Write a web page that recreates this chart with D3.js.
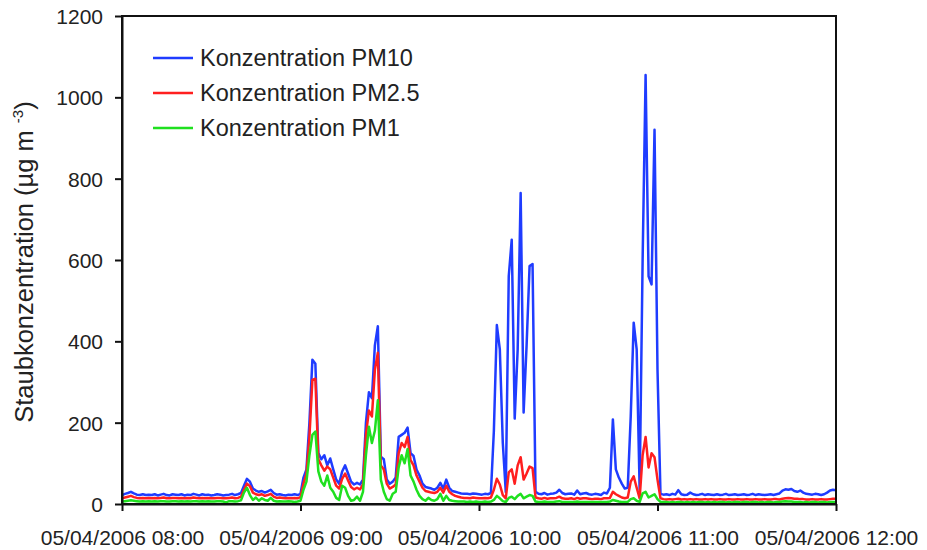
<!DOCTYPE html>
<html lang="de">
<head>
    <meta charset="utf-8">
    <style type="text/css">
        body { margin: 0; background: #fff; }
        svg { font-family: "Liberation Sans", Arial, sans-serif; }
        .line { fill: none; stroke-width: 2.5px; stroke-linejoin: round; }
        .axis path, .axis line { stroke: #111; stroke-width: 2px; }
        .axis text { fill: #222; }
    </style>
</head>
<body>
<svg width="927" height="550"></svg>

<script src="https://d3js.org/d3.v7.min.js" type="text/javascript"></script>

<script type="text/javascript">
    // one reading per minute, 08:00 to 12:00
    var startTime = new Date(2006, 3, 5, 8, 0);

    var pm10 = [
        22, 25, 27, 30, 26, 23, 22, 24, 22, 23,
        22, 24, 21, 23, 25, 22, 21, 24, 23, 22,
        24, 21, 23, 22, 25, 23, 21, 24, 22, 23,
        21, 22, 24, 23, 21, 22, 23, 25, 22, 24,
        27, 45, 62, 55, 38, 33, 30, 32, 28, 31,
        35, 27, 23, 24, 22, 21, 23, 22, 24, 22,
        25, 65, 85, 200, 355, 345, 125, 110, 120, 95,
        112, 85, 60, 50, 80, 95, 75, 55, 48, 52,
        48, 60, 200, 275, 260, 390, 437, 116, 110, 60,
        50, 55, 65, 165, 170, 175, 188, 125, 118, 85,
        70, 50, 42, 40, 38, 35, 40, 52, 38, 60,
        40, 32, 30, 28, 26, 25, 25, 24, 26, 25,
        24, 23, 25, 24, 27, 180, 440, 380, 150, 30,
        560, 650, 210, 380, 765, 225, 390, 585, 590, 30,
        25, 24, 27, 23, 25, 26, 28, 35, 27, 24,
        25, 26, 23, 33, 24, 26, 27, 24, 23, 25,
        24, 22, 28, 26, 40, 208, 85, 65, 50, 38,
        40, 215, 446, 380, 35, 600, 1055, 560, 540, 920,
        330, 25, 23, 24, 22, 25, 23, 34, 24, 22,
        23, 28, 24, 22, 23, 25, 22, 24, 23, 22,
        24, 22, 23, 25, 22, 23, 24, 22, 23, 24,
        22, 23, 25, 22, 24, 23, 22, 23, 24, 22,
        24, 26, 33, 36, 35, 37, 32, 30, 33, 28,
        25, 24, 23, 25, 24, 22, 24, 28, 33, 35,
        34
    ];

    var pm25 = [
        14, 16, 18, 20, 17, 15, 14, 15, 14, 15,
        14, 15, 14, 15, 16, 14, 14, 15, 15, 14,
        15, 14, 15, 14, 16, 15, 14, 15, 14, 15,
        14, 14, 15, 15, 14, 14, 15, 16, 14, 15,
        18, 35, 50, 44, 28, 24, 22, 24, 20, 22,
        25, 18, 15, 16, 15, 14, 15, 14, 15, 14,
        17, 50, 75, 165, 305, 308, 110, 95, 82, 92,
        85, 65, 45, 38, 62, 75, 58, 42, 36, 40,
        36, 48, 170, 230, 215, 330, 372, 95, 85, 50,
        38, 42, 48, 125, 150, 140, 165, 108, 95, 70,
        55, 40, 32, 30, 28, 27, 30, 40, 28, 45,
        30, 24, 20, 18, 16, 15, 15, 14, 16, 15,
        14, 14, 15, 14, 16, 35, 62, 48, 22, 14,
        78, 85, 50, 95, 115, 60, 75, 92, 88, 16,
        14, 13, 15, 13, 14, 14, 15, 18, 14, 13,
        13, 14, 12, 15, 13, 14, 14, 13, 12, 13,
        13, 12, 14, 14, 15, 30, 24, 20, 16, 14,
        16, 55, 68, 40, 14, 120, 165, 90, 125, 115,
        60, 14, 12, 11, 12, 11, 12, 13, 11, 12,
        11, 12, 11, 12, 11, 11, 12, 11, 12, 11,
        11, 12, 11, 11, 12, 11, 11, 12, 11, 11,
        12, 11, 11, 12, 11, 11, 12, 11, 11, 12,
        12, 11, 13, 14, 15, 14, 13, 13, 12, 12,
        11, 11, 12, 11, 11, 12, 11, 11, 12, 13,
        13
    ];

    var pm1 = [
        6, 7, 8, 9, 8, 7, 6, 7, 6, 7,
        6, 7, 6, 7, 7, 6, 6, 7, 7, 6,
        7, 6, 7, 6, 7, 7, 6, 7, 6, 7,
        6, 6, 7, 7, 6, 4, 7, 7, 6, 7,
        9, 28, 40, 22, 10, 16, 8, 14, 10, 8,
        15, 8, 6, 7, 6, 6, 7, 6, 5, 6,
        8, 35, 55, 120, 170, 178, 80, 55, 45, 70,
        40, 30, 15, 10, 45, 40, 20, 8, 10, 18,
        8, 30, 120, 190, 150, 180, 255, 60, 30, 12,
        8, 25, 30, 90, 120, 100, 135, 70, 55, 35,
        20, 12, 8, 15, 10, 8, 12, 25, 8, 20,
        10, 8, 7, 6, 6, 6, 5, 6, 5, 6,
        5, 5, 6, 5, 6, 10, 20, 14, 7, 5,
        15, 18, 12, 20, 25, 14, 18, 22, 20, 6,
        5, 5, 6, 5, 5, 5, 6, 7, 5, 5,
        5, 5, 5, 6, 5, 5, 5, 5, 5, 5,
        5, 5, 5, 5, 6, 10, 8, 6, 5, 5,
        5, 12, 14, 8, 5, 26, 30, 16, 20, 24,
        12, 5, 5, 5, 4, 5, 4, 5, 5, 4,
        5, 4, 5, 4, 5, 5, 4, 5, 4, 5,
        4, 5, 5, 4, 5, 4, 5, 5, 4, 5,
        5, 4, 5, 5, 4, 5, 4, 5, 5, 4,
        5, 5, 6, 7, 6, 6, 5, 5, 5, 4,
        5, 4, 5, 5, 4, 5, 5, 4, 5, 5,
        5
    ];

    var seriesNames = ["Konzentration PM10", "Konzentration PM2.5", "Konzentration PM1"];
    var seriesColors = ["#1f3cff", "#ff1f1f", "#1fe01f"];

    var xTickHours = [8, 9, 10, 11, 12];
    var xTickLabels = ["05/04/2006 08:00", "05/04/2006 09:00", "05/04/2006 10:00",
                       "05/04/2006 11:00", "05/04/2006 12:00"];
    var yTicks = [0, 200, 400, 600, 800, 1000, 1200];

    var svg = d3.select("svg"),
        plotLeft = 122, plotRight = 836, plotTop = 16, plotBottom = 504;

    var x = d3.scaleTime()
        .domain([new Date(2006, 3, 5, 8, 0), new Date(2006, 3, 5, 12, 0)])
        .range([plotLeft, plotRight]);

    var y = d3.scaleLinear()
        .domain([0, 1200])
        .range([plotBottom, plotTop]);

    function timeAt(i) { return d3.timeMinute.offset(startTime, i); }

    var line = d3.line()
        .x(function (d, i) { return x(timeAt(i)); })
        .y(function (d) { return y(d); });

    // lines, PM10 first so the finer fractions sit on top
    [pm10, pm25, pm1].forEach(function (values, k) {
        svg.append("path")
            .datum(values)
            .attr("class", "line")
            .attr("stroke", seriesColors[k])
            .attr("d", line);
    });

    // frame
    svg.append("rect")
        .attr("x", plotLeft).attr("y", plotTop)
        .attr("width", plotRight - plotLeft).attr("height", plotBottom - plotTop)
        .attr("fill", "none").attr("stroke", "#111").attr("stroke-width", 2);

    var xTickDates = xTickHours.map(function (h) { return new Date(2006, 3, 5, h, 0); });

    var xAxis = svg.append("g")
        .attr("class", "axis")
        .attr("transform", "translate(0," + plotBottom + ")")
        .call(d3.axisBottom(x)
            .tickValues(xTickDates)
            .tickSize(7).tickSizeOuter(0)
            .tickFormat(function (d, i) { return xTickLabels[i]; }));
    xAxis.selectAll("text")
        .attr("y", 41).attr("dy", null)
        .style("font-size", "21px");

    var yAxis = svg.append("g")
        .attr("class", "axis")
        .attr("transform", "translate(" + plotLeft + ",0)")
        .call(d3.axisLeft(y)
            .tickValues(yTicks)
            .tickSize(7).tickSizeOuter(0)
            .tickFormat(d3.format("d")));
    yAxis.selectAll("text")
        .attr("x", -19)
        .attr("dy", "0.36em")
        .style("font-size", "21px");

    // y title
    var title = svg.append("text")
        .attr("transform", "translate(33,262) rotate(-90)")
        .attr("text-anchor", "middle")
        .style("font-size", "25.5px")
        .attr("fill", "#222");
    title.append("tspan").text("Staubkonzentration (µg m ");
    title.append("tspan").attr("dy", -10).style("font-size", "15px").text("-3");
    title.append("tspan").attr("dy", 10).text(")");

    // legend
    var legend = svg.append("g");
    seriesNames.forEach(function (name, k) {
        var ly = 58 + k * 35;
        legend.append("line")
            .attr("x1", 153).attr("x2", 193)
            .attr("y1", ly).attr("y2", ly)
            .attr("stroke", seriesColors[k])
            .attr("stroke-width", 2.5);
        legend.append("text")
            .attr("x", 200).attr("y", ly)
            .attr("dy", "0.34em")
            .style("font-size", "23.5px")
            .attr("fill", "#222")
            .text(name);
    });
</script>

</body>
</html>
